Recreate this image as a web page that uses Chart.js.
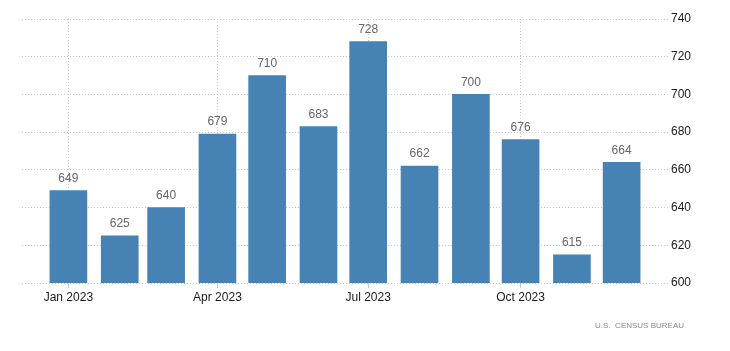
<!DOCTYPE html>
<html lang="en">
<head>
    <meta charset="UTF-8">
    <title>New Home Sales 2023</title>
    <script src="https://cdn.jsdelivr.net/npm/chart.js"></script>
    <style>
        html, body { margin: 0; padding: 0; background: #fff; }
        #chartContainer { width: 730px; height: 351px; }
    </style>
</head>
<body>
    <div id="chartContainer">
        <canvas id="dataChart"></canvas>
    </div>

    <script>
        // Month start, as day offset from Jan 1 2023
        const monthDays = [0, 31, 59, 90, 120, 151, 181, 212, 243, 273, 304, 334];
        const monthNames = ['Jan', 'Feb', 'Mar', 'Apr', 'May', 'Jun', 'Jul', 'Aug', 'Sep', 'Oct', 'Nov', 'Dec'];
        const salesValues = [649, 625, 640, 679, 710, 683, 728, 662, 700, 676, 615, 664];
        const tickDays = [0, 90, 181, 273];
        const tickLabels = ['Jan 2023', 'Apr 2023', 'Jul 2023', 'Oct 2023'];
        const yTicks = [600, 620, 640, 660, 680, 700, 720, 740];
        const sourceText = 'U.S.  CENSUS BUREAU';

        const barColor = '#4682b4';
        const gridColor = '#c8c8c8';

        // Value labels above each bar
        const valueLabels = {
            id: 'valueLabels',
            afterDatasetsDraw(chart) {
                const ctx = chart.ctx;
                const meta = chart.getDatasetMeta(0);
                ctx.save();
                ctx.font = '12px "Liberation Sans", Arial, sans-serif';
                ctx.fillStyle = '#666666';
                ctx.textAlign = 'center';
                ctx.textBaseline = 'bottom';
                meta.data.forEach((bar, i) => {
                    ctx.fillText(String(salesValues[i]), bar.x, bar.y - 6);
                });
                ctx.restore();
            }
        };

        // Source line bottom right
        const sourceNote = {
            id: 'sourceNote',
            afterDraw(chart) {
                const ctx = chart.ctx;
                ctx.save();
                ctx.font = '8px "Liberation Sans", Arial, sans-serif';
                ctx.fillStyle = '#888888';
                ctx.textAlign = 'right';
                ctx.textBaseline = 'middle';
                ctx.fillText(sourceText, 684, 326);
                ctx.restore();
            }
        };

        const ctx = document.getElementById('dataChart').getContext('2d');
        const chart = new Chart(ctx, {
            type: 'bar',
            data: {
                datasets: [{
                    label: 'New Home Sales',
                    data: monthDays.map((d, i) => ({ x: d, y: salesValues[i] })),
                    backgroundColor: barColor,
                    borderWidth: 0,
                    barThickness: 37
                }]
            },
            plugins: [valueLabels, sourceNote],
            options: {
                responsive: true,
                maintainAspectRatio: false,
                animation: false,
                layout: {
                    padding: { left: 22, top: 19, right: 0, bottom: 0 }
                },
                scales: {
                    x: {
                        type: 'linear',
                        offset: false,
                        min: -28,
                        max: 362,
                        afterBuildTicks: (scale) => {
                            scale.ticks = tickDays.map(v => ({ value: v }));
                        },
                        afterFit: (scale) => { scale.height = 68; },
                        ticks: {
                            autoSkip: false,
                            maxRotation: 0,
                            padding: 2,
                            color: '#1a1a1a',
                            font: { family: '"Liberation Sans", Arial, sans-serif', size: 12 },
                            callback: (value) => {
                                const idx = tickDays.indexOf(value);
                                return idx >= 0 ? tickLabels[idx] : '';
                            }
                        },
                        grid: {
                            offset: false,
                            color: gridColor,
                            tickColor: gridColor,
                            tickLength: 5
                        },
                        border: { display: false, dash: [1, 2] }
                    },
                    y: {
                        position: 'right',
                        min: 600,
                        max: 740,
                        afterBuildTicks: (scale) => {
                            scale.ticks = yTicks.map(v => ({ value: v }));
                        },
                        afterFit: (scale) => { scale.width = 62; },
                        ticks: {
                            padding: 3,
                            color: '#1a1a1a',
                            font: { family: '"Liberation Sans", Arial, sans-serif', size: 12 }
                        },
                        grid: {
                            color: gridColor,
                            drawTicks: false
                        },
                        border: { display: false, dash: [1, 2] }
                    }
                },
                plugins: {
                    legend: { display: false },
                    tooltip: { enabled: false }
                }
            }
        });
    </script>
</body>
</html>
